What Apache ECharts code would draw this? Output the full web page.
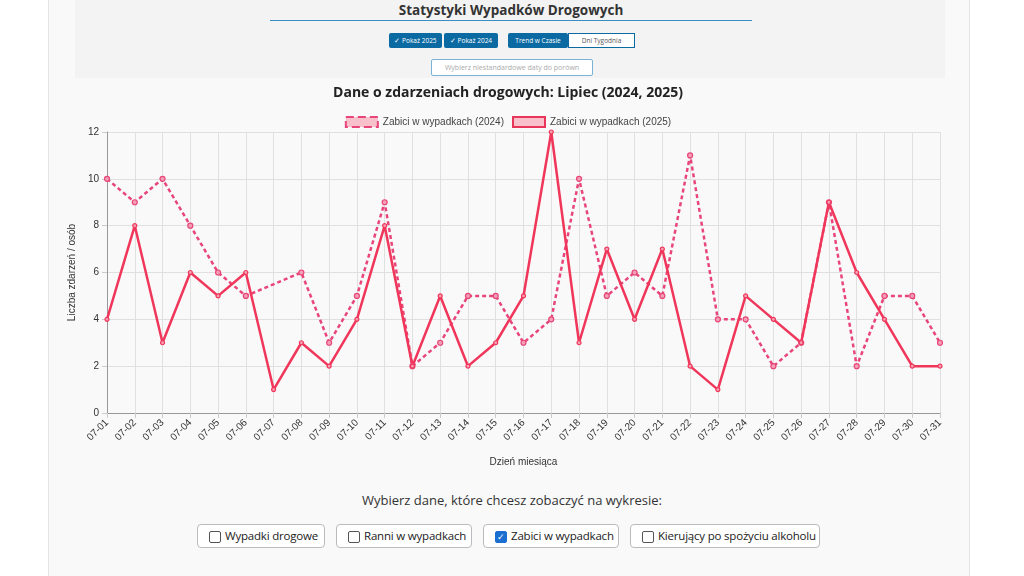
<!DOCTYPE html>
<html><head><meta charset="utf-8">
<script src="https://cdn.jsdelivr.net/npm/echarts@6/dist/echarts.min.js"></script>
<style>
body{margin:0;width:1024px;height:576px;background:#fff;font-family:"Open Sans",sans-serif;position:relative;overflow:hidden}
#panel{position:absolute;left:48px;top:0;width:920px;height:576px;background:#f9f9f9;border-left:1px solid #e4e4e4;border-right:1px solid #e4e4e4}
#head{position:absolute;left:75px;top:0;width:870px;height:78px;background:#f3f3f3}
#t1{position:absolute;left:270px;top:0;width:482px;text-align:center;font-weight:bold;font-size:13.5px;color:#333;line-height:20px;border-bottom:1.5px solid #3a8ec4;padding-bottom:0}
.btn{position:absolute;top:33px;height:15px;font-size:6.5px;line-height:15px;text-align:center;color:#fff;background:#0b6aa2;border-radius:2px}
.btn2{position:absolute;top:33px;height:13px;font-size:6.5px;line-height:13px;text-align:center;color:#555;background:#fff;border:1px solid #0b6aa2}
#inp{position:absolute;left:431px;top:59px;width:160px;height:15px;border:1px solid #7ab3d6;background:#fff;border-radius:2px;font-size:7px;line-height:15px;color:#aaa;text-align:center;overflow:hidden;white-space:nowrap}
#chart{position:absolute;left:48px;top:75px;width:920px;height:400px}
#sel{position:absolute;left:0;width:1024px;top:491px;text-align:center;font-size:13px;color:#333}
.cb{position:absolute;top:524px;height:24px;border:1px solid #bbb;border-radius:4px;background:#fff;font-size:11.5px;line-height:22px;color:#222;padding-left:27px;box-sizing:border-box;white-space:nowrap;letter-spacing:-0.2px}
.cb i{position:absolute;left:11px;top:6px;width:10px;height:10px;border:1px solid #555;border-radius:2px;background:#fff}
.cb i.on{background:#1a6fd1;border-color:#1a6fd1;color:#fff;font-style:normal;font-size:9px;line-height:10px;text-align:center}
</style></head><body>
<div id="panel"></div><div id="head"></div>
<div id="t1">Statystyki Wypadków Drogowych</div>
<div class="btn" style="left:389px;width:53px">✓ Pokaż 2025</div>
<div class="btn" style="left:444px;width:54px">✓ Pokaż 2024</div>
<div class="btn" style="left:508px;width:60px">Trend w Czasie</div>
<div class="btn2" style="left:568px;width:65px">Dni Tygodnia</div>
<div id="inp">Wybierz niestandardowe daty do porówn</div>
<div id="chart"></div>
<div id="sel">Wybierz dane, które chcesz zobaczyć na wykresie:</div>
<div class="cb" style="left:197px;width:128px"><i></i>Wypadki drogowe</div>
<div class="cb" style="left:336px;width:136px"><i></i>Ranni w wypadkach</div>
<div class="cb" style="left:483px;width:136px"><i class="on">✓</i>Zabici w wypadkach</div>
<div class="cb" style="left:630px;width:190px"><i></i>Kierujący po spożyciu alkoholu</div>
<script>
const days=["07-01","07-02","07-03","07-04","07-05","07-06","07-07","07-08","07-09","07-10","07-11","07-12","07-13","07-14","07-15","07-16","07-17","07-18","07-19","07-20","07-21","07-22","07-23","07-24","07-25","07-26","07-27","07-28","07-29","07-30","07-31"];
const killed2024=[10,9,10,8,6,5,null,6,3,5,9,2,3,5,5,3,4,10,5,6,5,11,4,4,2,3,9,2,5,5,3];
const killed2025=[4,8,3,6,5,6,1,3,2,4,8,2,5,2,3,5,12,3,7,4,7,2,1,5,4,3,9,6,4,2,2];
const c=echarts.init(document.getElementById('chart'));
const col='#f0365a';
c.setOption({
 title:{text:'Dane o zdarzeniach drogowych: Lipiec (2024, 2025)',left:'center',top:6,textStyle:{fontSize:14,fontWeight:'bold',color:'#222',fontFamily:'Open Sans'}},
 legend:{top:36,left:'center',itemWidth:32,itemHeight:10,itemGap:8,textStyle:{fontSize:10,color:'#444',fontFamily:'Liberation Sans'},
  data:[{name:'Zabici w wypadkach (2024)',icon:'rect',itemStyle:{color:'#f8c0cb',borderColor:'#e8457a',borderWidth:2,borderType:'dashed'}},
        {name:'Zabici w wypadkach (2025)',icon:'rect',itemStyle:{color:'#f8c0cb',borderColor:'#e8365a',borderWidth:2}}]},
 grid:{left:59,right:28,top:57,bottom:62},
 xAxis:{type:'category',data:days,boundaryGap:false,name:'Dzień miesiąca',nameLocation:'middle',nameGap:44,nameTextStyle:{fontSize:10,color:'#333',fontFamily:'Liberation Sans'},
  axisLine:{lineStyle:{color:'#999'}},axisTick:{show:true,lineStyle:{color:'#ccc'}},splitLine:{show:true,lineStyle:{color:'#e0e0e0'}},
  axisLabel:{rotate:45,fontSize:10,color:'#333',fontFamily:'Liberation Sans',interval:0}},
 yAxis:{type:'value',min:0,max:12,interval:2,name:'Liczba zdarzeń / osób',nameLocation:'middle',nameGap:28,nameTextStyle:{fontSize:10,color:'#333',fontFamily:'Liberation Sans'},
  axisLine:{show:true,lineStyle:{color:'#999'}},axisTick:{show:true,lineStyle:{color:'#ccc'}},splitLine:{lineStyle:{color:'#e0e0e0'}},axisLabel:{fontSize:10,color:'#333',fontFamily:'Liberation Sans'}},
 series:[
  {name:'Zabici w wypadkach (2024)',type:'line',data:killed2024,connectNulls:true,symbol:'circle',symbolSize:5,
   lineStyle:{color:'#e8457a',width:2.5,type:[4,3]},itemStyle:{color:'#f3a0b4',borderColor:'#e8457a',borderWidth:1.2}},
  {name:'Zabici w wypadkach (2025)',type:'line',data:killed2025,symbol:'circle',symbolSize:4,
   lineStyle:{color:col,width:2.5},itemStyle:{color:'#f3a0b4',borderColor:col,borderWidth:1.2}}
 ]});
</script></body></html>
